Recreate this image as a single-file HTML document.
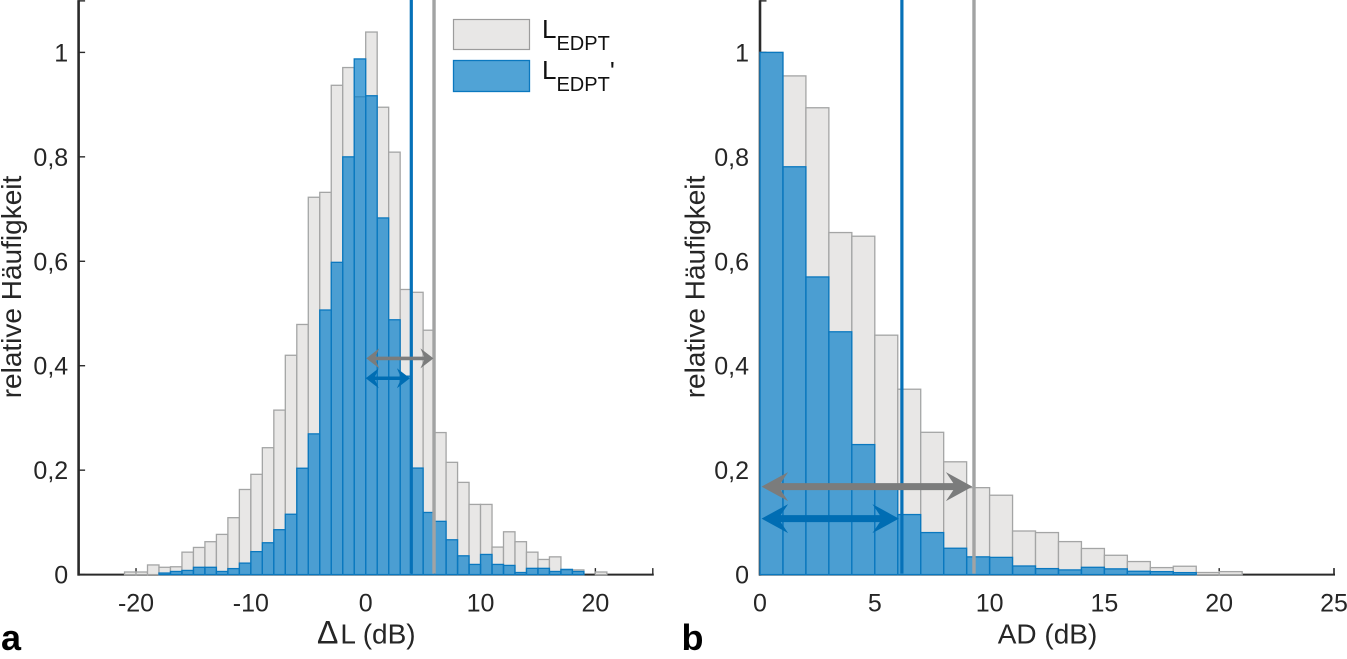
<!DOCTYPE html>
<html lang="de">
<head>
<meta charset="utf-8">
<title>Relative Häufigkeit</title>
<style>
html,body{margin:0;padding:0;background:#fff;}
svg{display:block;font-family:"Liberation Sans",Arial,sans-serif;}
.tick{font-size:25px;fill:#262626;}
.label{font-size:28px;fill:#262626;}
.legend{font-size:26px;fill:#111;}
.legend tspan.sub{font-size:20px;}
.panel{font-size:36px;font-weight:bold;fill:#000;}
</style>
</head>
<body>
<svg id="chart" xmlns="http://www.w3.org/2000/svg" width="1347" height="659" viewBox="0 0 1347 659">
  <rect x="0" y="0" width="1347" height="659" fill="#fff"/>
  <g id="panel-a"></g>
  <g id="panel-b"></g>

  <g>
    <rect x="453.5" y="19.5" width="76" height="30" fill="#e8e7e6" stroke="#9c9c9c" stroke-width="1.2"/>
    <text class="legend" x="542" y="38">L<tspan class="sub" dy="12">EDPT</tspan></text>
    <rect x="453.5" y="60.5" width="76" height="31" fill="#50a3d6" stroke="#0a78bf" stroke-width="1.3"/>
    <text class="legend" x="542" y="79">L<tspan class="sub" dy="12">EDPT</tspan><tspan dy="-11" font-size="26">'</tspan></text>
  </g>

  <text class="label" x="317" y="643.5"><tspan font-size="32">Δ</tspan><tspan dx="2">L (dB)</tspan></text>
  <text class="label" x="1047.5" y="643.5" text-anchor="middle">AD (dB)</text>
  <text class="label" transform="translate(21,287) rotate(-90)" text-anchor="middle">relative Häufigkeit</text>
  <text class="label" transform="translate(704.5,287) rotate(-90)" text-anchor="middle">relative Häufigkeit</text>
  <text class="panel" x="1" y="650">a</text>
  <text class="panel" x="681.5" y="650">b</text>
</svg>

<script>
// ---- Panel a data ----
const binStartA = -21;
const grayA = [.005,.005,.0185,.014,.015,.043,.052,.063,.077,.109,.163,.192,.243,.315,.42,.479,.7226,.732,.937,.971,.915,1.039,.895,.809,.546,.5406,.468,.272,.215,.1766,.1344,.1344,.0527,.082,.063,.043,.029,.034,.009,.009,0,.005];
const blueA = [0,0,0,.003,.006,.008,.014,.014,.006,.0115,.022,.044,.061,.086,.1156,.2037,.2695,.5067,.598,.80,.9875,.917,.683,.488,.38,.204,.119,.102,.0667,.036,.0195,.0386,.0195,.0176,.004,.012,.012,.006,.01,.006,0,0];
const xTicksA = [-20,-10,0,10,20];
const xDomainA = [-25,25];
const grayLineA = 5.95;
const blueLineA = 3.97;
const grayArrowA = [0.05,5.9,0.414];
const blueArrowA = [0,3.85,0.376];

// ---- Panel b data ----
const binStartB = 0;
const grayB = [1.0,.955,.894,.655,.648,.4585,.355,.2725,.216,.1665,.152,.0835,.0805,.0632,.05,.037,.025,.0134,.016,.004,.0057];
const blueB = [1.0,.781,.57,.465,.249,.166,.115,.0805,.0505,.034,.033,.0165,.0115,.009,.014,.011,.0064,.0057,.0038,0,0];
const xTicksB = [0,5,10,15,20,25];
const xDomainB = [0,25];
const grayLineB = 9.32;
const blueLineB = 6.18;
const grayArrowB = [0.07,9.25,0.1685];
const blueArrowB = [0.07,6.05,0.1072];

// ---- Shared y axis ----
const yTicks = [0,0.2,0.4,0.6,0.8,1];
const yTickLabels = ["0","0,2","0,4","0,6","0,8","1"];
const yMax = 1.1;

const NS = "http://www.w3.org/2000/svg";
const Y0 = 574.6, Y1 = 52.4;
function sy(v){ return Y0 + (Y1 - Y0) * v; }
function make(parent, tag, attrs){
  const e = document.createElementNS(NS, tag);
  for (const k in attrs) e.setAttribute(k, attrs[k]);
  parent.appendChild(e);
  return e;
}

function drawPanel(root, o){
  const sx = v => o.pxLeft + (v - o.domain[0]) * (o.pxRight - o.pxLeft) / (o.domain[1] - o.domain[0]);
  const axisColor = "#2a2a2a";

  const yAxis = make(root, "line", {x1:o.pxLeft, x2:o.pxLeft, y1:sy(yMax), y2:Y0+1, stroke:axisColor, "stroke-width":2.6});
  
  
  const xAxis = make(root, "line", {x1:o.pxLeft-1, x2:o.pxRight+1, y1:Y0, y2:Y0, stroke:axisColor, "stroke-width":2});
  
  

  yTicks.forEach((t, i) => {
    const tk = make(root, "line", {x1:o.pxLeft, x2:o.pxLeft+6.5, y1:sy(t), y2:sy(t), stroke:axisColor, "stroke-width":1.4});
    
    
    const lb = make(root, "text", {x:o.labelRight, y:sy(t)+9, "text-anchor":"end", "class":"tick"});
    lb.textContent = yTickLabels[i];
    
    
  });
  const topTick = make(root, "line", {x1:o.pxLeft, x2:o.pxLeft+6.5, y1:sy(yMax)+0.7, y2:sy(yMax)+0.7, stroke:axisColor, "stroke-width":1.4});
  
  

  o.xTicks.concat(o.domain).forEach((t, i) => {
    const tk = make(root, "line", {x1:sx(t), x2:sx(t), y1:Y0, y2:Y0-6.5, stroke:axisColor, "stroke-width":1.4});
    
    
    if (i < o.xTicks.length) {
      const lb = make(root, "text", {x:sx(t), y:611.5, "text-anchor":"middle", "class":"tick"});
      lb.textContent = String(t);
      
      
    }
  });

  o.gray.forEach((v, i) => {
    if (!v) return;
    const x0 = sx(o.binStart + i), x1 = sx(o.binStart + i + 1);
    const r = make(root, "rect", {x:x0, y:sy(v), width:x1-x0, height:Y0-sy(v), fill:"#e8e7e6", stroke:"#a4a5a5", "stroke-width":1.3});
    
    
  });
  o.blue.forEach((v, i) => {
    if (!v) return;
    const x0 = sx(o.binStart + i), x1 = sx(o.binStart + i + 1);
    const r = make(root, "rect", {x:x0, y:sy(v), width:x1-x0, height:Y0-sy(v), fill:"#097fc9", "fill-opacity":0.7, stroke:"#0a78bf", "stroke-width":1.3});
    
    
  });

  const bl = make(root, "line", {x1:sx(o.blueLine), x2:sx(o.blueLine), y1:0, y2:Y0-1, stroke:"#0671b8", "stroke-width":3.2});
  
  
  const gl = make(root, "line", {x1:sx(o.grayLine), x2:sx(o.grayLine), y1:0, y2:Y0-1, stroke:"#a2a3a3", "stroke-width":3.4});
  
  

  function arrow(a, color){
    const xa = sx(a[0]), xb = sx(a[1]), y = sy(a[2]);
    const L = o.head[0], H = o.head[1], S = o.head[2] / 2, N = L * 0.72;
    const pts = [
      [xa, y], [xa+L, y-H], [xa+N, y-S], [xb-N, y-S], [xb-L, y-H],
      [xb, y], [xb-L, y+H], [xb-N, y+S], [xa+N, y+S], [xa+L, y+H]
    ].map(p => p[0].toFixed(2) + "," + p[1].toFixed(2)).join(" ");
    return make(root, "polygon", {points:pts, fill:color});
  }
  const ga = arrow(o.grayArrow, "#7b7c7c");
  
  
  const ba = arrow(o.blueArrow, "#006db3");
  
  
}

drawPanel(document.getElementById("panel-a"), {
  pxLeft:78.6, pxRight:652.8, labelRight:68.2, domain:xDomainA, xTicks:xTicksA,
  binStart:binStartA, gray:grayA, blue:blueA,
  grayLine:grayLineA, blueLine:blueLineA,
  grayArrow:grayArrowA, blueArrow:blueArrowA,
  head:[13,10,3.6]
});
drawPanel(document.getElementById("panel-b"), {
  pxLeft:760, pxRight:1334, labelRight:749, domain:xDomainB, xTicks:xTicksB,
  binStart:binStartB, gray:grayB, blue:blueB,
  grayLine:grayLineB, blueLine:blueLineB,
  grayArrow:grayArrowB, blueArrow:blueArrowB,
  head:[26.5,14.5,7]
});
</script>
</body>
</html>
